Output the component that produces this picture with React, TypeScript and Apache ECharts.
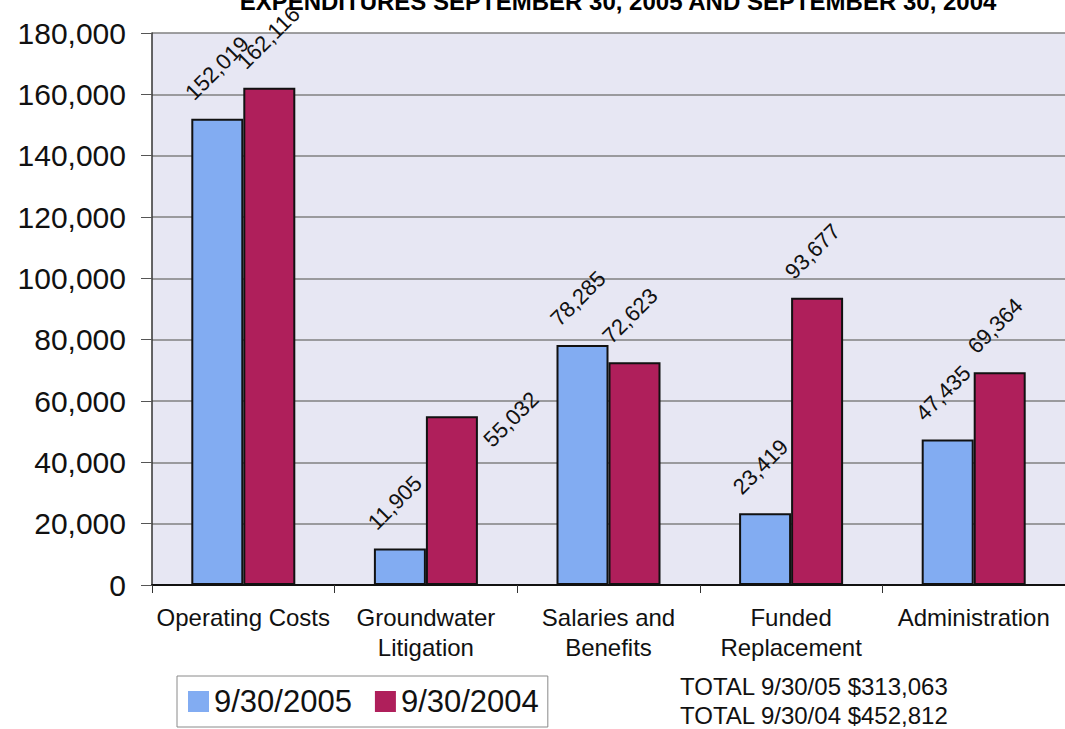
import React, { useEffect, useRef } from "react";
import * as echarts from "echarts";

const categories = [
  "Operating Costs",
  "Groundwater\nLitigation",
  "Salaries and\nBenefits",
  "Funded\nReplacement",
  "Administration",
];
const values2005 = [152019, 11905, 78285, 23419, 47435];
const values2004 = [162116, 55032, 72623, 93677, 69364];
const seriesNames = ["9/30/2005", "9/30/2004"];
const totalLines = ["TOTAL 9/30/05 $313,063", "TOTAL 9/30/04 $452,812"];
const titleText = "EXPENDITURES SEPTEMBER 30, 2005 AND SEPTEMBER 30, 2004";

const FONT = "'Liberation Sans', Arial, sans-serif";
const BLUE = "#82ACF2";
const MAROON = "#AF1F5B";

const fmt = (v: number) => v.toLocaleString("en-US");

const baseLabel = {
  show: true,
  position: "top",
  distance: 0,
  rotate: 45,
  align: "left",
  verticalAlign: "middle",
  offset: [-4, -36],
  fontFamily: FONT,
  fontSize: 22,
  color: "#111",
  formatter: (p: any) => fmt(p.value),
};

export default function App() {
  const ref = useRef<HTMLDivElement>(null);

  useEffect(() => {
    document.body.style.margin = "0";
    const chart = echarts.init(ref.current!, null, { renderer: "svg" });

    const data2004 = values2004.map((v, i) =>
      i === 1 ? { value: v, label: { offset: [6, 44] } } : v
    );

    chart.setOption({
      animation: false,
      backgroundColor: "#ffffff",
      textStyle: { fontFamily: FONT },
      grid: {
        left: 152,
        top: 33,
        width: 915,
        bottom: 144,
        show: true,
        backgroundColor: "#E7E7F3",
        borderWidth: 0,
      },
      legend: {
        data: seriesNames,
        left: 177,
        top: 676,
        orient: "horizontal",
        padding: [10, 9, 10, 11],
        itemGap: 23,
        itemWidth: 21,
        itemHeight: 21,
        icon: "rect",
        backgroundColor: "#ffffff",
        borderColor: "#8a8a8a",
        borderWidth: 1,
        borderRadius: 0,
        itemStyle: { borderWidth: 0 },
        textStyle: { fontFamily: FONT, fontSize: 31, color: "#111" },
      },
      xAxis: {
        type: "category",
        data: categories,
        axisLine: { lineStyle: { color: "#111", width: 2 } },
        axisTick: { show: true, length: 8, lineStyle: { color: "#333" } },
        axisLabel: {
          fontFamily: FONT,
          fontSize: 24,
          lineHeight: 30,
          color: "#111",
          margin: 17,
          interval: 0,
        },
      },
      yAxis: {
        type: "value",
        min: 0,
        max: 180000,
        interval: 20000,
        axisLine: { show: true, lineStyle: { color: "#333", width: 1.5 } },
        axisTick: { show: true, length: 11, lineStyle: { color: "#555" } },
        axisLabel: {
          fontFamily: FONT,
          fontSize: 30,
          color: "#111",
          margin: 26,
          formatter: (v: number) => fmt(v),
        },
        splitLine: { show: true, lineStyle: { color: "#808080", width: 1.5 } },
      },
      series: [
        {
          name: seriesNames[0],
          type: "bar",
          data: values2005,
          barWidth: 52,
          barGap: "0%",
          itemStyle: { color: BLUE, borderColor: "#111", borderWidth: 2 },
          label: baseLabel,
        },
        {
          name: seriesNames[1],
          type: "bar",
          data: data2004,
          barWidth: 52,
          barGap: "0%",
          itemStyle: { color: MAROON, borderColor: "#111", borderWidth: 2 },
          label: baseLabel,
        },
      ],
      graphic: [
        {
          type: "text",
          x: 618,
          y: 13,
          style: {
            text: titleText,
            font: `bold 24px ${FONT}`,
            fill: "#000",
            align: "center",
            verticalAlign: "bottom",
          },
        },
        ...totalLines.map((t, i) => ({
          type: "text",
          x: 680,
          y: 686 + i * 29,
          style: {
            text: t,
            font: `24px ${FONT}`,
            fill: "#111",
            align: "left",
            verticalAlign: "middle",
          },
        })),
      ],
    });

    return () => chart.dispose();
  }, []);

  return <div ref={ref} style={{ width: 1065, height: 729 }} />;
}
